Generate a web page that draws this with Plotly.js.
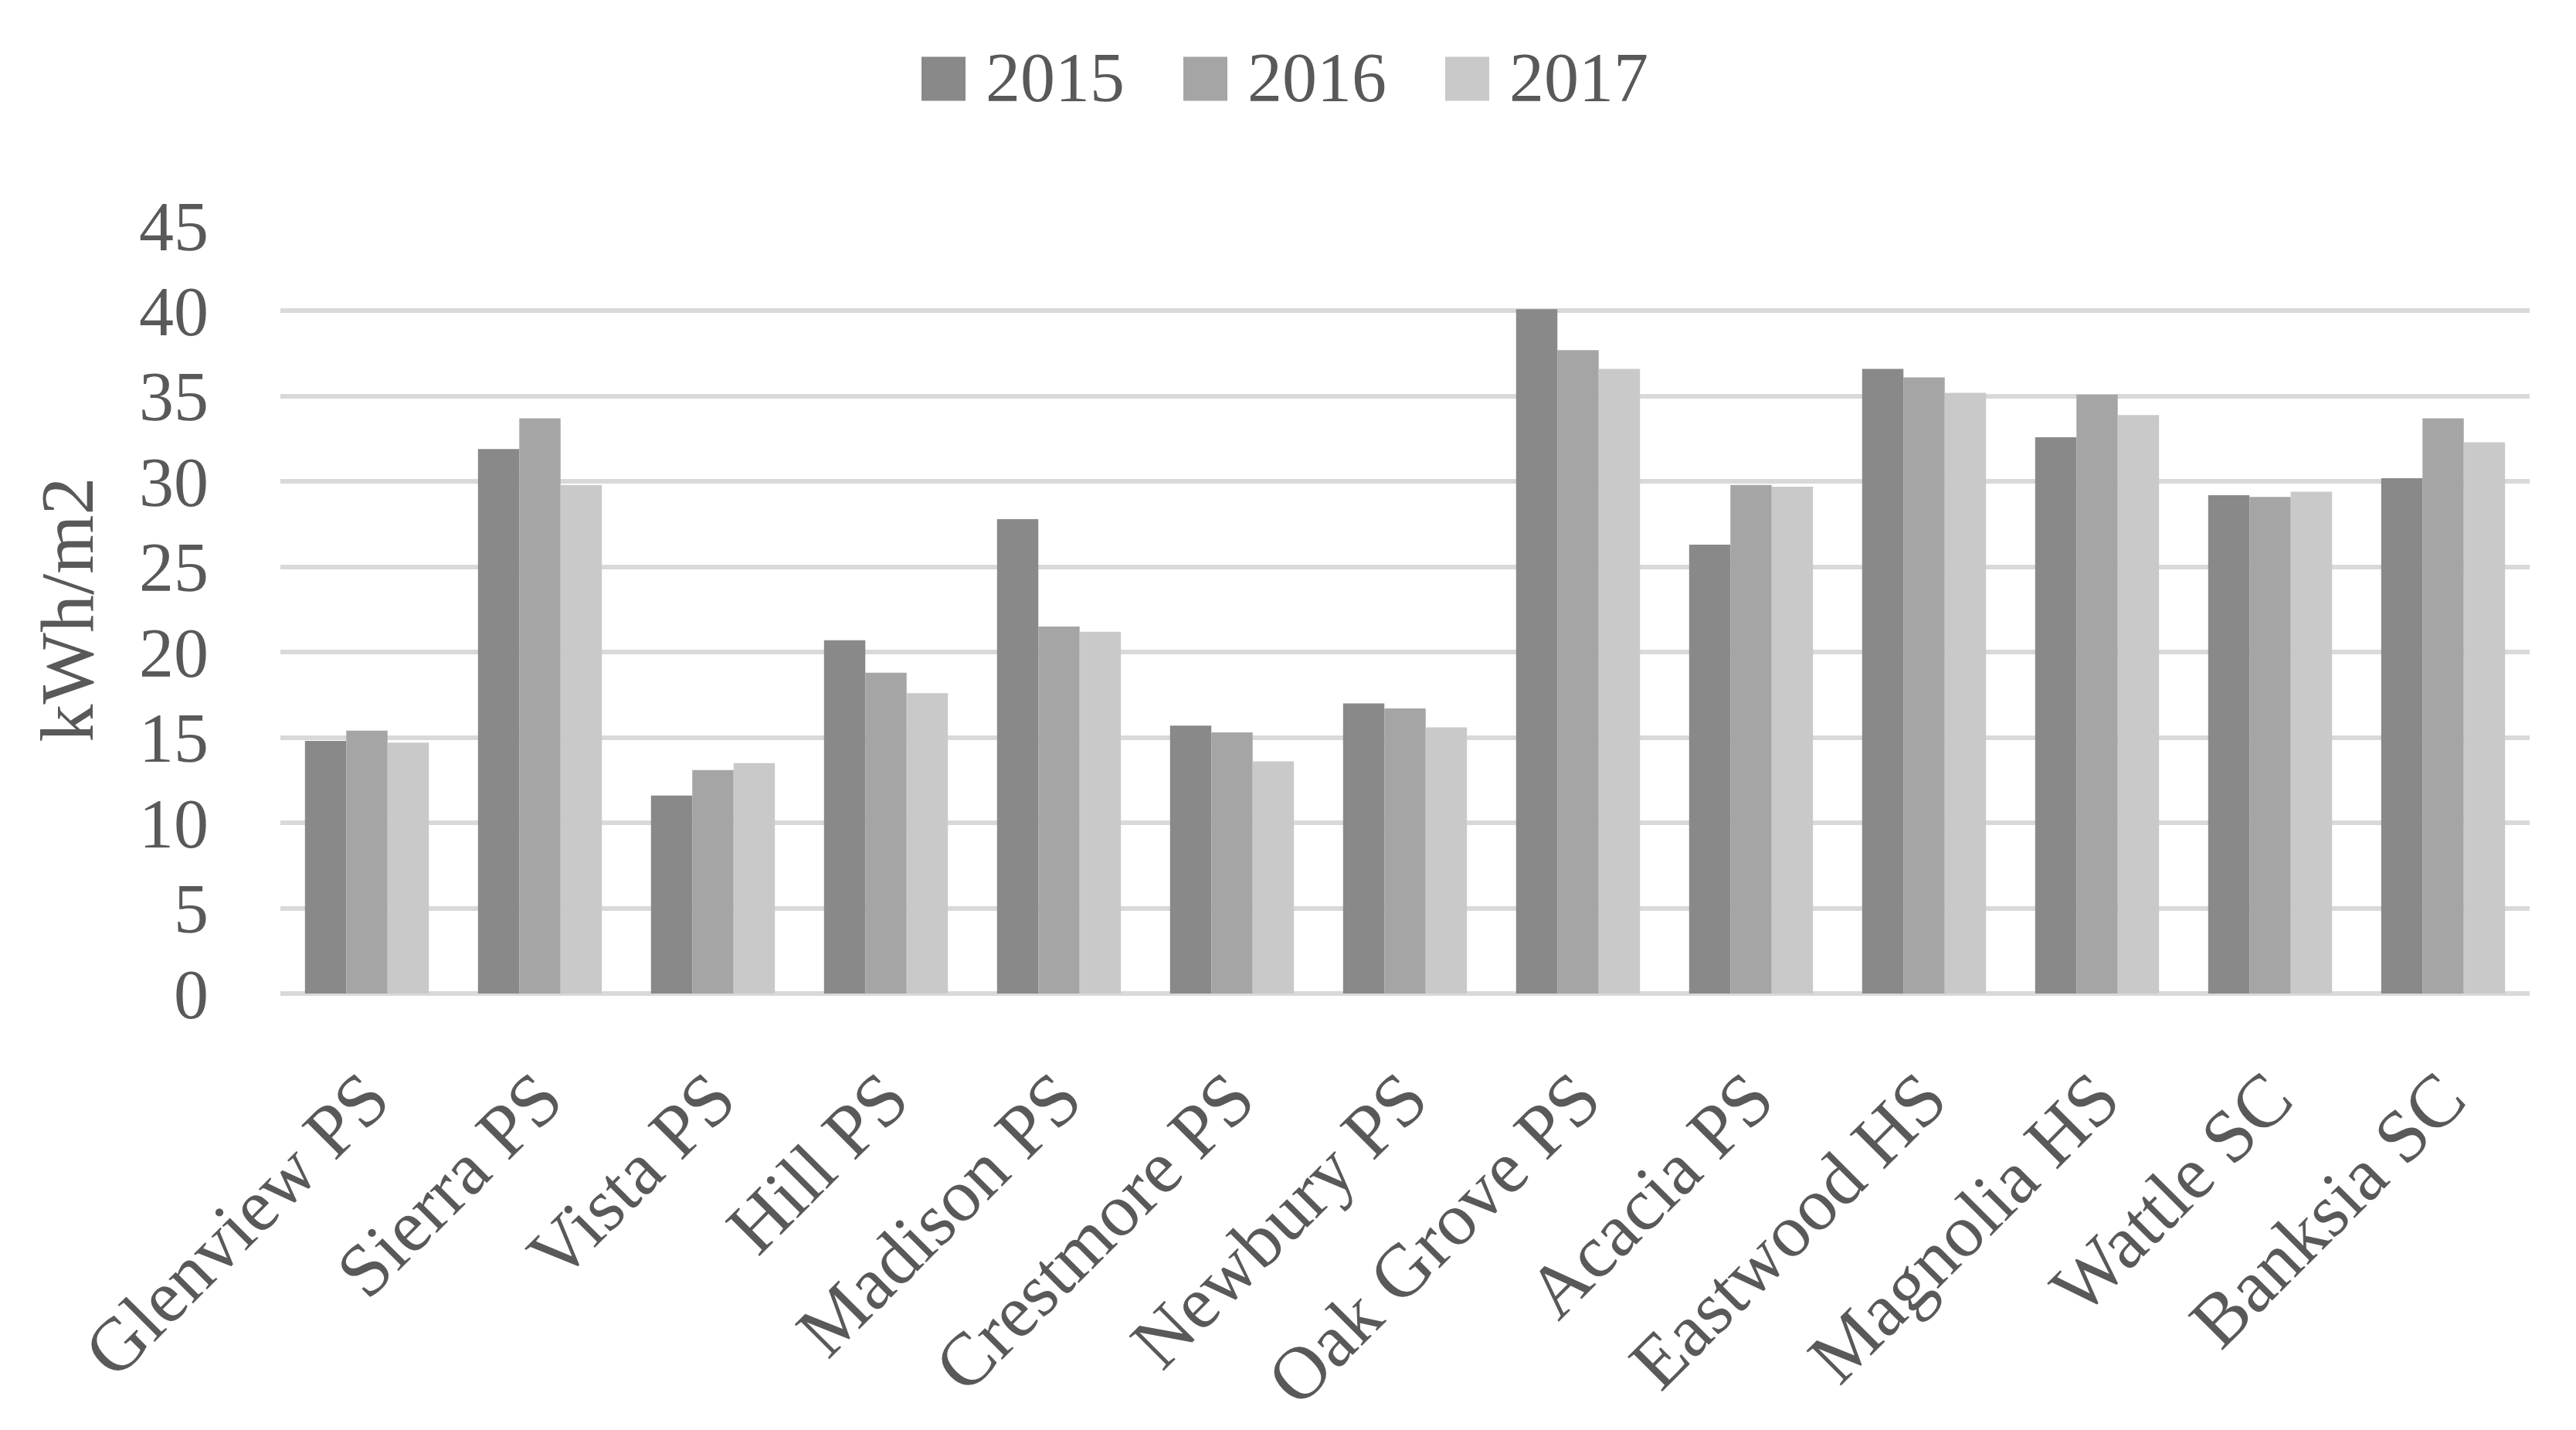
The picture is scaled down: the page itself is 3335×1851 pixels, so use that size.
<!DOCTYPE html>
<html>
<head>
<meta charset="utf-8">
<script src="https://cdn.plot.ly/plotly-3.0.1.min.js"></script>
<style>
html,body{margin:0;padding:0;background:#fff;}
#chart{width:3335px;height:1851px;}
</style>
</head>
<body>
<div id="chart"></div>
<script>
const categories = ["Glenview PS","Sierra PS","Vista PS","Hill PS","Madison PS","Crestmore PS","Newbury PS","Oak Grove PS","Acacia PS","Eastwood HS","Magnolia HS","Wattle SC","Banksia SC"];
const seriesNames = ["2015","2016","2017"];
const values2015 = [14.8, 31.9, 11.6, 20.7, 27.8, 15.7, 17.0, 40.1, 26.3, 36.6, 32.6, 29.2, 30.2];
const values2016 = [15.4, 33.7, 13.1, 18.8, 21.5, 15.3, 16.7, 37.7, 29.8, 36.1, 35.1, 29.1, 33.7];
const values2017 = [14.7, 29.8, 13.5, 17.6, 21.2, 13.6, 15.6, 36.6, 29.7, 35.2, 33.9, 29.4, 32.3];
const yTickValues = [0,5,10,15,20,25,30,35,40,45];
const yTitle = "kWh/m2";

const colors = ["#898989","#a5a5a5","#c9c9c9"];
const seriesValues = [values2015, values2016, values2017];
const W = 3335, H = 1851;
const m = {l:363, r:60, t:292, b:565};
const FONT = "Liberation Serif, Times New Roman, serif";
const TXT = "#595959";

const pw = W - m.l - m.r, ph = H - m.t - m.b;
const px = x => (x - m.l) / pw;
const py = y => (H - m.b - y) / ph;

const traces = seriesNames.map((name, i) => ({
  type: "bar",
  name: name,
  x: categories,
  y: seriesValues[i],
  marker: {color: colors[i], line: {width: 0}},
  showlegend: false,
  hoverinfo: "x+y+name"
}));

// Legend drawn as squares + text (sized to match reference)
const shapes = [];
const annotations = [];
const legendStart = 1193, legendPitch = 339, sq = 57, legendCy = 102;
seriesNames.forEach((name, i) => {
  const x0 = legendStart + i * legendPitch;
  shapes.push({
    type: "rect", xref: "paper", yref: "paper",
    x0: px(x0), x1: px(x0 + sq), y0: py(legendCy + sq/2), y1: py(legendCy - sq/2),
    fillcolor: colors[i], line: {width: 0}
  });
  annotations.push({
    xref: "paper", yref: "paper", x: px(x0 + sq + 24), y: py(legendCy - 2),
    xanchor: "left", yanchor: "middle", showarrow: false,
    text: name, font: {family: FONT, size: 90, color: TXT}
  });
});

const layout = {
  width: W, height: H,
  margin: m,
  paper_bgcolor: "#fff",
  plot_bgcolor: "#fff",
  font: {family: FONT, size: 88, color: TXT},
  showlegend: false,
  barmode: "group",
  bargap: 0.284,
  bargroupgap: 0,
  xaxis: {
    type: "category",
    tickangle: -45,
    showgrid: false,
    showline: false,
    zeroline: false,
    ticks: "",
    ticklabelstandoff: 58,
    tickfont: {family: FONT, size: 97, color: TXT},
    automargin: false
  },
  yaxis: {
    range: [0, 45],
    tickvals: yTickValues,
    ticktext: yTickValues.map(String),
    showgrid: true,
    gridcolor: "#d9d9d9",
    gridwidth: 6,
    zeroline: true,
    zerolinecolor: "#d9d9d9",
    zerolinewidth: 6,
    showline: false,
    ticks: "",
    ticklabelstandoff: 92,
    tickfont: {family: FONT, size: 90, color: TXT},
    title: {text: yTitle, font: {family: FONT, size: 98, color: TXT}, standoff: 26},
    automargin: false
  },
  shapes: shapes,
  annotations: annotations
};

Plotly.newPlot("chart", traces, layout, {displayModeBar: false, staticPlot: true});
</script>
</body>
</html>
